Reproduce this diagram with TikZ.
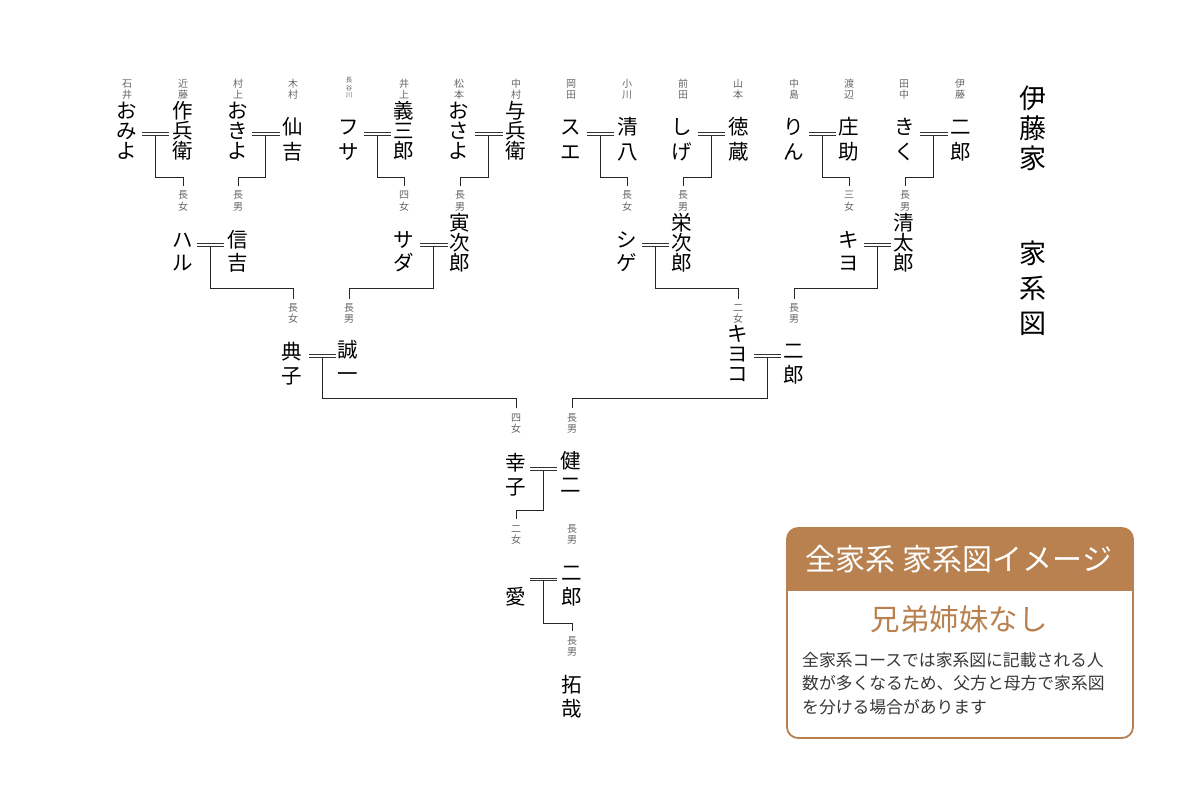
\documentclass[tikz,border=0pt]{standalone}
\usepackage{fontspec}
\newfontfamily\jp{Noto Sans CJK JP}
\usetikzlibrary{calc}
\definecolor{brn}{RGB}{184,129,79}
\definecolor{txt}{RGB}{55,55,55}
\newcommand\q{\rule[-.12em]{0pt}{1em}}
\newcommand\Va[1]{\q #1}
\newcommand\Vb[2]{\q #1\\\q #2}
\newcommand\Vc[3]{\q #1\\\q #2\\\q #3}
\tikzset{
  nm/.style={inner sep=0pt, align=center, text=black, font={\jp\fontsize{20.5}{#1}\selectfont\lineskiplimit=-30pt}},
  nm/.default=20,
  sm/.style={inner sep=0pt, align=center, text=black!60, font={\jp\fontsize{10}{#1}\selectfont\lineskiplimit=-30pt}},
  sm/.default=11.5,
  tinysm/.style={sm, font={\jp\fontsize{6.5}{7.5}\selectfont\lineskiplimit=-30pt}},
  ttl/.style={inner sep=0pt, align=center, text=black, font={\jp\fontsize{27}{#1}\selectfont\lineskiplimit=-30pt}},
  ln/.style={line width=0.9pt, draw=black!85},
  dbl/.style={double, double distance=1.7pt, line width=0.9pt, draw=black!80},
}
\begin{document}
\begin{tikzpicture}[x=1pt,y=-1pt]
\useasboundingbox (0,0) rectangle (1200,800);
% ---------- row 1 surnames
\node[sm] (s1) at (127,89) {\Vb{石}{井}};
\node[sm] (s2) at (183,89) {\Vb{近}{藤}};
\node[sm] (s3) at (238,89) {\Vb{村}{上}};
\node[sm] (s4) at (293,89) {\Vb{木}{村}};
\node[tinysm] (s5) at (349,88) {\Vc{長}{谷}{川}};
\node[sm] (s6) at (404,89) {\Vb{井}{上}};
\node[sm] (s7) at (459,89) {\Vb{松}{本}};
\node[sm] (s8) at (516,89) {\Vb{中}{村}};
\node[sm] (s9) at (571,89) {\Vb{岡}{田}};
\node[sm] (s10) at (627,89) {\Vb{小}{川}};
\node[sm] (s11) at (683,89) {\Vb{前}{田}};
\node[sm] (s12) at (738,89) {\Vb{山}{本}};
\node[sm] (s13) at (794,89) {\Vb{中}{島}};
\node[sm] (s14) at (849,89) {\Vb{渡}{辺}};
\node[sm] (s15) at (904,89) {\Vb{田}{中}};
\node[sm] (s16) at (960,89) {\Vb{伊}{藤}};
% ---------- row 1 names
\node[nm] (a1) at (127,131) {\Vc{お}{み}{よ}};
\node[nm] (b1) at (183,131) {\Vc{作}{兵}{衛}};
\node[nm] (a2) at (238,131) {\Vc{お}{き}{よ}};
\node[nm=25] (b2) at (293,139.5) {\Vb{仙}{吉}};
\node[nm=25] (a3) at (349,139.5) {\Vb{フ}{サ}};
\node[nm] (b3) at (404,131) {\Vc{義}{三}{郎}};
\node[nm] (a4) at (459,131) {\Vc{お}{さ}{よ}};
\node[nm] (b4) at (516,131) {\Vc{与}{兵}{衛}};
\node[nm=25] (a5) at (571,139.5) {\Vb{ス}{エ}};
\node[nm=25] (b5) at (628,139.5) {\Vb{清}{八}};
\node[nm=25] (a6) at (682,139.5) {\Vb{し}{げ}};
\node[nm=25] (b6) at (739,139.5) {\Vb{徳}{蔵}};
\node[nm=25] (a7) at (794,139.5) {\Vb{り}{ん}};
\node[nm=25] (b7) at (849,139.5) {\Vb{庄}{助}};
\node[nm=25] (a8) at (905,139.5) {\Vb{き}{く}};
\node[nm=25] (b8) at (961,139.5) {\Vb{二}{郎}};
% marriages row 1
\coordinate (m1) at (155,134);
\coordinate (m2) at (265.5,134);
\coordinate (m3) at (377,134);
\coordinate (m4) at (488.5,134);
\coordinate (m5) at (600,134);
\coordinate (m6) at (711,134);
\coordinate (m7) at (822,134);
\coordinate (m8) at (933.5,134);
% labels row 1
\node[sm] (l1) at (183,200.5) {\Vb{長}{女}};
\node[sm] (l2) at (238,200.5) {\Vb{長}{男}};
\node[sm] (l3) at (404,200.5) {\Vb{四}{女}};
\node[sm] (l4) at (460,200.5) {\Vb{長}{男}};
\node[sm] (l5) at (627,200.5) {\Vb{長}{女}};
\node[sm] (l6) at (683,200.5) {\Vb{長}{男}};
\node[sm] (l7) at (849,200.5) {\Vb{三}{女}};
\node[sm] (l8) at (905,200.5) {\Vb{長}{男}};
% ---------- row 2 names
\node[nm=23] (a9) at (183,251) {\Vb{ハ}{ル}};
\node[nm=23] (b9) at (238,251) {\Vb{信}{吉}};
\node[nm=23] (a10) at (404,251) {\Vb{サ}{ダ}};
\node[nm] (b10) at (460,243) {\Vc{寅}{次}{郎}};
\node[nm=23] (a11) at (627,251) {\Vb{シ}{ゲ}};
\node[nm] (b11) at (682,243) {\Vc{栄}{次}{郎}};
\node[nm=23] (a12) at (849,251) {\Vb{キ}{ヨ}};
\node[nm] (b12) at (904,243) {\Vc{清}{太}{郎}};
\coordinate (m9) at (210,245);
\coordinate (m10) at (433.5,245);
\coordinate (m11) at (655,245);
\coordinate (m12) at (877,245);
\node[sm=10.5] (l9) at (293,313) {\Vb{長}{女}};
\node[sm=10.5] (l10) at (349,313) {\Vb{長}{男}};
\node[sm=10.5] (l11) at (738,313) {\Vb{二}{女}};
\node[sm=10.5] (l12) at (794,313) {\Vb{長}{男}};
% ---------- row 3
\node[nm=24] (a13) at (292,363.5) {\Vb{典}{子}};
\node[nm=24] (b13) at (348,362) {\Vb{誠}{一}};
\node[nm] (a14) at (738,353.5) {\Vc{キ}{ヨ}{コ}};
\node[nm=24] (b14) at (794,362.5) {\Vb{二}{郎}};
\coordinate (m13) at (322,356);
\coordinate (m14) at (767,356);
\node[sm] (l13) at (516,423) {\Vb{四}{女}};
\node[sm] (l14) at (572,423) {\Vb{長}{男}};
% ---------- row 4
\node[nm=24] (a15) at (516,474.5) {\Vb{幸}{子}};
\node[nm=24] (b15) at (571,472.5) {\Vb{健}{二}};
\coordinate (m15) at (543,469);
\node[sm] (l15) at (516,534) {\Vb{二}{女}};
\node[sm] (l16) at (572,534) {\Vb{長}{男}};
% ---------- row 5
\node[nm] (a16) at (516,597) {\Va{愛}};
\node[nm=24] (b16) at (572,585) {\Vb{二}{郎}};
\coordinate (m16) at (543,579.5);
\node[sm] (l17) at (572,646) {\Vb{長}{男}};
\node[nm=24] (c1) at (572,696.5) {\Vb{拓}{哉}};
% ---------- connectors (stems first)
\foreach \m/\l/\d in {m1/l1/43, m2/l2/43, m3/l3/43, m4/l4/43, m5/l5/43, m6/l6/43, m7/l7/43, m8/l8/43,
                     m9/l9/43, m10/l10/43, m11/l11/43, m12/l12/43,
                     m13/l13/42, m14/l14/42, m15/l15/41, m16/l17/43.5}
  \draw[ln] (\m) -- ++(0,\d) -| ([yshift=4pt]\l.north);
\foreach \m in {m1,m2,m3,m4,m5,m6,m7,m8,m9,m10,m11,m12,m13,m14,m15,m16}
  \draw[dbl] ([xshift=-13.5pt]\m) -- ([xshift=14pt]\m);
% ---------- title
\node[ttl=30] (t1) at (1033,128.5) {\Vc{伊}{藤}{家}};
\node[ttl=35] (t2) at (1033,288.5) {\Vc{家}{系}{図}};
% ---------- info box
\begin{scope}
  \clip[rounded corners=11pt] (787,528) rectangle (1133,738);
  \fill[brn] (787,528) rectangle (1133,591);
\end{scope}
\draw[brn, line width=1.8pt, rounded corners=11pt] (787,528) rectangle (1133,738);
\node[inner sep=0pt, text=white, font={\jp\fontsize{30}{32}\selectfont}] (h1) at (959,559) {全家系 家系図イメージ};
\node[inner sep=0pt, text=brn, font={\jp\fontsize{29.5}{32}\selectfont}] (h2) at (959,619) {兄弟姉妹なし};
\node[inner sep=0pt, anchor=north west, align=left, text=txt, font={\jp\fontsize{16.8}{23.5}\selectfont}] (h3) at (802,652)
  {全家系コースでは家系図に記載される人\\数が多くなるため、父方と母方で家系図\\を分ける場合があります};
\end{tikzpicture}
\end{document}
